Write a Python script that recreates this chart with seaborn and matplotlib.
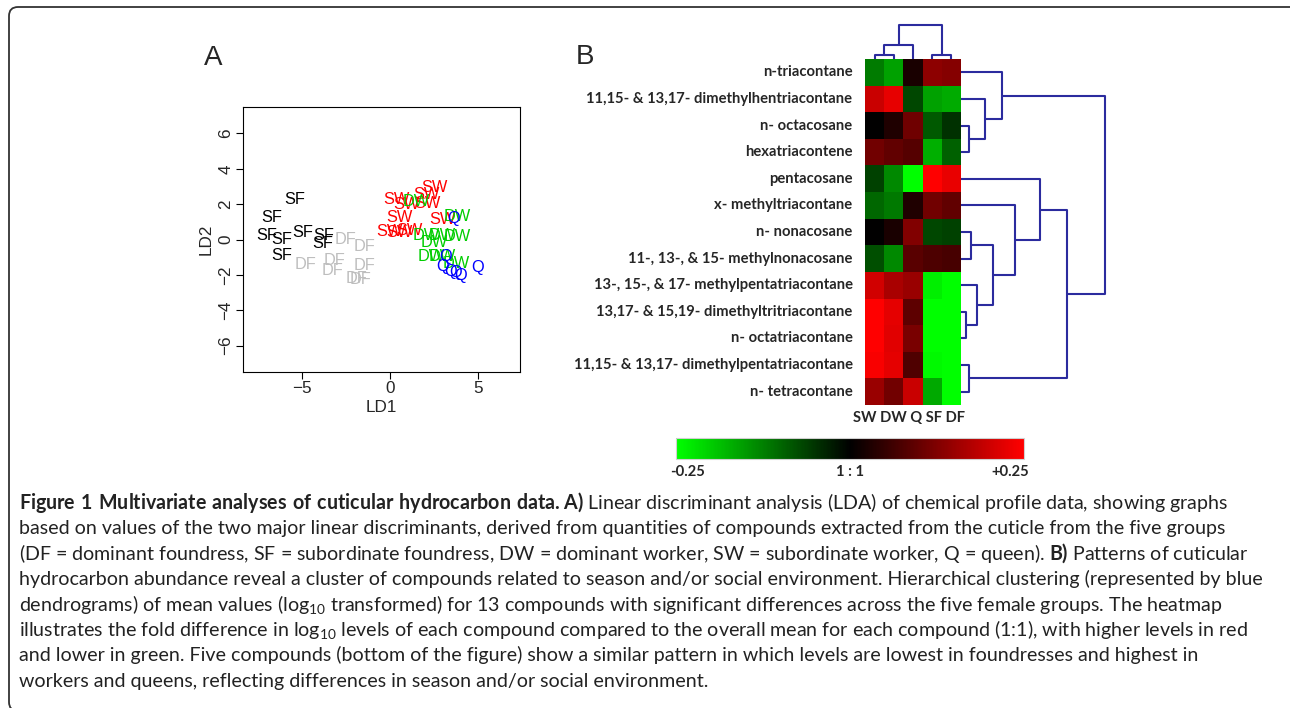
import matplotlib
matplotlib.use("Agg")
import matplotlib.pyplot as plt
import numpy as np
import pandas as pd
import seaborn as sns
from matplotlib.colors import LinearSegmentedColormap
from matplotlib.patches import FancyBboxPatch
from matplotlib.transforms import IdentityTransform

W, H = 1290, 708

# --- panel A: LDA scores ---
sf_ld1 = [-5.43, -6.74, -7.02, -6.14, -4.93, -3.78, -3.84, -6.14]
sf_ld2 = [2.28, 1.23, 0.21, 0.0, 0.40, 0.21, -0.23, -0.92]
df_ld1 = [-2.53, -1.44, -4.78, -3.13, -3.28, -1.44, -1.87, -1.69]
df_ld2 = [0.0, -0.42, -1.40, -1.21, -1.74, -1.49, -2.21, -2.26]
sw_ld1 = [2.53, 0.37, 2.06, 0.94, 2.15, 0.56, 3.0, 0.0, 0.56, 1.12]
sw_ld2 = [2.94, 2.28, 2.55, 1.98, 2.04, 1.25, 1.13, 0.43, 0.38, 0.49]
dw_ld1 = [1.5, 3.84, 2.06, 3.0, 3.84, 2.53, 2.34, 3.0, 3.75]
dw_ld2 = [2.13, 1.32, 0.25, 0.25, 0.19, -0.17, -0.98, -0.98, -1.36]
q_ld1 = [3.6, 3.18, 3.0, 3.46, 4.03, 4.96, 3.75]
q_ld2 = [1.19, -0.98, -1.55, -1.83, -2.02, -1.60, -1.89]

# --- panel B: fold difference (log10) per compound and group ---
compounds = [
    "n-triacontane",
    "11,15- & 13,17- dimethylhentriacontane",
    "n- octacosane",
    "hexatriacontene",
    "pentacosane",
    "x- methyltriacontane",
    "n- nonacosane",
    "11-, 13-, & 15- methylnonacosane",
    "13-, 15-, & 17- methylpentatriacontane",
    "13,17- & 15,19- dimethyltritriacontane",
    "n- octatriacontane",
    "11,15- & 13,17- dimethylpentatriacontane",
    "n- tetracontane",
]
groups = ["SW", "DW", "Q", "SF", "DF"]
sw_vals = [-0.12, 0.196, 0.0, 0.11, -0.063, -0.10, 0.0, -0.078, 0.204, 0.25, 0.25, 0.243, 0.15]
dw_vals = [-0.157, 0.225, 0.03, 0.094, -0.133, -0.118, 0.024, -0.133, 0.165, 0.224, 0.22, 0.224, 0.11]
q_vals = [0.025, -0.07, 0.108, 0.083, -0.25, 0.03, 0.125, 0.086, 0.15, 0.09, 0.118, 0.078, 0.196]
sf_vals = [0.137, -0.157, -0.086, -0.17, 0.25, 0.11, -0.07, 0.075, -0.233, -0.25, -0.25, -0.243, -0.165]
df_vals = [0.13, -0.167, -0.047, -0.094, 0.227, 0.094, -0.063, 0.07, -0.25, -0.25, -0.25, -0.25, -0.25]

# dendrogram merges: (child a, child b, height); leaves are 0..n-1, new nodes n, n+1, ...
col_merges = [(0, 1, 4), (5, 2, 14), (3, 4, 4), (6, 7, 34)]
row_merges = [
    (2, 3, 8), (1, 13, 24), (0, 14, 41),
    (6, 7, 10), (9, 10, 4.7), (8, 17, 15.7), (16, 18, 31.7),
    (5, 19, 54), (4, 20, 79), (11, 12, 8), (21, 22, 105.7), (15, 23, 144),
]

caption = [
    r"$\mathbf{Figure\ 1\ Multivariate\ analyses\ of\ cuticular\ hydrocarbon\ data.\!\!\ A)}$ Linear discriminant analysis (LDA) of chemical profile data, showing graphs",
    "based on values of the two major linear discriminants, derived from quantities of compounds extracted from the cuticle from the five groups",
    r"(DF = dominant foundress, SF = subordinate foundress, DW = dominant worker, SW = subordinate worker, Q = queen). $\mathbf{B)}$ Patterns of cuticular",
    "hydrocarbon abundance reveal a cluster of compounds related to season and/or social environment. Hierarchical clustering (represented by blue",
    r"dendrograms) of mean values (log$_{10}$ transformed) for 13 compounds with significant differences across the five female groups. The heatmap",
    r"illustrates the fold difference in log$_{10}$ levels of each compound compared to the overall mean for each compound (1:1), with higher levels in red",
    "and lower in green. Five compounds (bottom of the figure) show a similar pattern in which levels are lowest in foundresses and highest in",
    "workers and queens, reflecting differences in season and/or social environment.",
]

sns.set_theme(style="ticks", context="notebook")
plt.rcParams["font.family"] = ["Liberation Sans", "DejaVu Sans"]
plt.rcParams["mathtext.fontset"] = "custom"
plt.rcParams["mathtext.rm"] = "Lato"
plt.rcParams["mathtext.bf"] = "Lato:bold"
plt.rcParams["mathtext.default"] = "regular"

fig = plt.figure(figsize=(W / 100, H / 100), dpi=100)
fig.patch.set_facecolor("white")


def px_axes(x0, y0, x1, y1):
    return fig.add_axes([x0 / W, 1 - y1 / H, (x1 - x0) / W, (y1 - y0) / H])


# ---------------- panel A ----------------
ax = px_axes(243, 107, 520, 372)
lda_groups = [
    ("SF", sf_ld1, sf_ld2, "black"),
    ("DF", df_ld1, df_ld2, "#BEBEBE"),
    ("SW", sw_ld1, sw_ld2, "#FF0000"),
    ("DW", dw_ld1, dw_ld2, "#00CD00"),
    ("Q", q_ld1, q_ld2, "#0000FF"),
]
for label, xs, ys, color in lda_groups:
    for x, y in zip(xs, ys):
        ax.text(x, y, label, color=color, fontsize=11.8, ha="center", va="center")
ax.set_xlim(-8.35, 7.4)
ax.set_ylim(-7.5, 7.5)
ax.set_xticks([-5, 0, 5])
ax.set_yticks([-6, -4, -2, 0, 2, 4, 6])
ax.tick_params(labelsize=12.3, length=5, width=0.8, color="black", pad=1.5)
ax.tick_params(axis="y", pad=2)
for t in ax.get_yticklabels():
    t.set_rotation(90)
    t.set_va("center")
for sp in ax.spines.values():
    sp.set_color("black")
    sp.set_linewidth(0.8)
ax.set_xlabel("LD1", fontsize=12.3, labelpad=3)
ax.set_ylabel("LD2", fontsize=12.3, labelpad=3)
fig.text(213 / W, 1 - 58 / H, "A", fontsize=20, ha="center", va="center")
fig.text(585 / W, 1 - 57 / H, "B", fontsize=20, ha="center", va="center")

# ---------------- panel B: heatmap ----------------
heat = pd.DataFrame(
    {"SW": sw_vals, "DW": dw_vals, "Q": q_vals, "SF": sf_vals, "DF": df_vals},
    index=compounds,
)[groups]
cmap = LinearSegmentedColormap.from_list("gbr", ["#00FF00", "#000000", "#FF0000"])

lab_size = 10.6
axh = px_axes(865, 59, 961, 405)
sns.heatmap(heat, ax=axh, cmap=cmap, vmin=-0.25, vmax=0.25, cbar=False,
            xticklabels=False, yticklabels=True, linewidths=0)
axh.set_yticklabels(compounds, rotation=0, fontsize=lab_size, fontweight="bold",
                    fontfamily="Lato", ha="right", va="center")
axh.tick_params(axis="y", length=0, pad=9)
axh.set_xlabel("")
axh.set_ylabel("")
axh.text(2.3, 13.5, " ".join(groups), fontsize=lab_size, fontweight="bold",
         fontfamily="Lato", ha="center", va="center")


def draw_dendrogram(ax, merges, n_leaves, orientation):
    pos = {i: i + 0.5 for i in range(n_leaves)}
    hgt = {i: 0.0 for i in range(n_leaves)}
    for k, (a, b, h) in enumerate(merges):
        p = [pos[a], pos[a], pos[b], pos[b]]
        q = [hgt[a], h, h, hgt[b]]
        if orientation == "top":
            ax.plot(p, q, color="#2B2B9E", lw=1.5, solid_capstyle="butt")
        else:
            ax.plot(q, p, color="#2B2B9E", lw=1.5, solid_capstyle="butt")
        pos[n_leaves + k] = (pos[a] + pos[b]) / 2
        hgt[n_leaves + k] = h
    ax.set_axis_off()


axc = px_axes(865, 20, 961, 59)
draw_dendrogram(axc, col_merges, len(groups), "top")
axc.set_xlim(0, len(groups))
axc.set_ylim(0, 39)

axr = px_axes(961, 59, 1110, 405)
draw_dendrogram(axr, row_merges, len(compounds), "right")
axr.set_ylim(len(compounds), 0)
axr.set_xlim(0, 149)

# colour key
cax = px_axes(676, 438, 1024, 459)
cb = fig.colorbar(axh.collections[0], cax=cax, orientation="horizontal")
cb.set_ticks([-0.233, 0, 0.23])
cb.set_ticklabels(["-0.25", "1 : 1", "+0.25"])
cax.tick_params(length=0, pad=4, labelsize=lab_size)
for t in cax.get_xticklabels():
    t.set_fontweight("bold")
    t.set_fontfamily("Lato")
cb.outline.set_edgecolor("#D0D0D0")
cb.outline.set_linewidth(0.8)

# ---------------- caption ----------------
renderer = fig.canvas.get_renderer()
probe = fig.text(19 / W, 0.5, caption[3], fontsize=13, fontfamily="Lato")
scale = 1243 / probe.get_window_extent(renderer).width
probe.remove()
cap_size = 13 * scale
for i, line in enumerate(caption):
    fig.text(19 / W, 1 - (509 + 25.4 * i) / H, line, fontsize=cap_size,
             fontfamily="Lato", color="#222222", va="baseline", ha="left")

frame = FancyBboxPatch((9, -3), 1310, H - 7 + 3,
                       boxstyle="round,pad=0,rounding_size=9",
                       transform=IdentityTransform(), fill=False,
                       lw=1.3, ec="#333333")
fig.add_artist(frame)

fig.savefig("out.png", dpi=100)
